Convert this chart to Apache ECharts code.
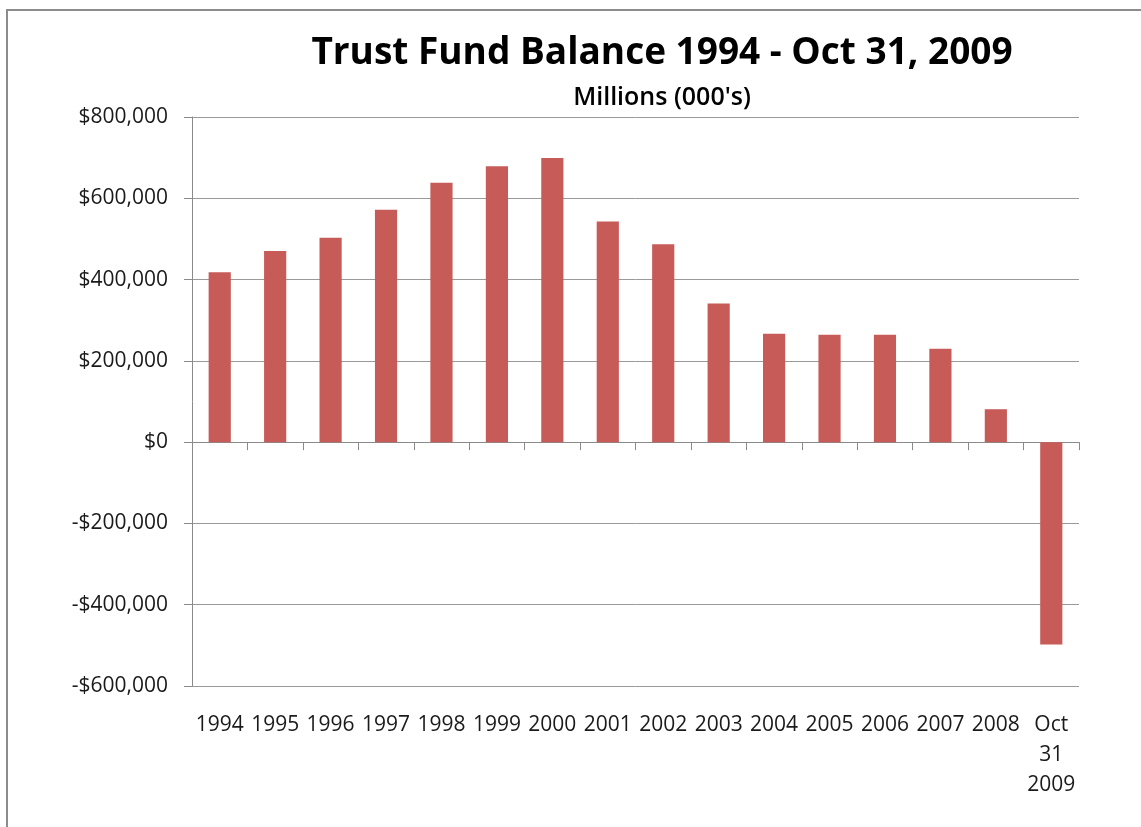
<!DOCTYPE html>
<html>
<head>
<meta charset="utf-8">
<script src="https://cdn.jsdelivr.net/npm/echarts@6/dist/echarts.min.js"></script>
<style>
  html, body { margin: 0; padding: 0; background: #fff; }
  #chart { width: 1141px; height: 827px; }
</style>
</head>
<body>
<div id="chart"></div>
<script>
const CATEGORIES = [
  "1994", "1995", "1996", "1997", "1998", "1999", "2000", "2001",
  "2002", "2003", "2004", "2005", "2006", "2007", "2008", "Oct\n31\n2009",
];
// balance in millions (000's)
const BALANCE = [
  418000, 470000, 503000, 572000, 638000, 679000, 699000, 543000,
  487000, 341000, 267000, 264000, 264000, 230000, 81000, -498000,
];
const Y_MIN = -600000;
const Y_MAX = 800000;
const Y_STEP = 200000;

const FONT = "'Open Sans', 'Liberation Sans', sans-serif";
const GRID_GRAY = "#9a9a9a";
const AXIS_GRAY = "#8a8a8a";

function money(v) {
  const s = "$" + Math.abs(v).toLocaleString("en-US");
  return v < 0 ? "-" + s : s;
}

const chart = echarts.init(document.getElementById("chart"), null, { renderer: "canvas" });

chart.setOption({
  backgroundColor: "#fff",
  animation: false,
  title: [
    {
      text: "Trust Fund Balance 1994 - Oct 31, 2009",
      left: 657,
      top: 30,
      textAlign: "center",
      textStyle: { fontFamily: FONT, fontSize: 37, fontWeight: "bold", color: "#000" },
    },
    {
      text: "Millions (000's)",
      left: 657,
      top: 80,
      textAlign: "center",
      textStyle: { fontFamily: FONT, fontSize: 25, fontWeight: 600, color: "#000" },
    },
  ],
  graphic: [
    {
      type: "rect",
      shape: { x: 7, y: 10, width: 1200, height: 900 },
      style: { fill: "none", stroke: "#8c8c8c", lineWidth: 2 },
      silent: true,
    },
  ],
  grid: { left: 192, right: 62, top: 117, bottom: 141 },
  xAxis: [
    {
      type: "category",
      data: CATEGORIES,
      position: "bottom",
      axisLine: { onZero: true, lineStyle: { color: AXIS_GRAY, width: 1 } },
      axisTick: { show: true, length: 8, lineStyle: { color: AXIS_GRAY } },
      axisLabel: { show: false },
      splitLine: { show: false },
    },
    {
      type: "category",
      data: CATEGORIES,
      position: "bottom",
      axisLine: { show: false, onZero: false },
      axisTick: { show: false },
      axisLabel: {
        show: true,
        interval: 0,
        margin: 24,
        fontFamily: FONT,
        fontSize: 21,
        lineHeight: 30,
        color: "#1a1a1a",
      },
      splitLine: { show: false },
    },
  ],
  yAxis: {
    type: "value",
    min: Y_MIN,
    max: Y_MAX,
    interval: Y_STEP,
    axisLine: { show: true, lineStyle: { color: AXIS_GRAY, width: 1 } },
    axisTick: { show: true, length: 8, lineStyle: { color: AXIS_GRAY } },
    axisLabel: {
      margin: 24,
      fontFamily: FONT,
      fontSize: 21,
      color: "#1a1a1a",
      formatter: money,
    },
    splitLine: { show: true, lineStyle: { color: GRID_GRAY, width: 1 } },
  },
  series: [
    {
      type: "bar",
      xAxisIndex: 0,
      data: BALANCE,
      barWidth: "40%",
      itemStyle: { color: "#C65B58" },
    },
  ],
});
</script>
</body>
</html>
